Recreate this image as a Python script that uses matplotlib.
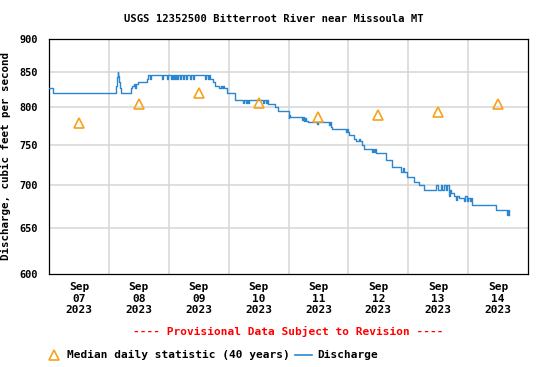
import matplotlib
matplotlib.use("Agg")
import matplotlib.pyplot as plt
from matplotlib.lines import Line2D

# ---------------- data ----------------
title = "USGS 12352500 Bitterroot River near Missoula MT"
day_labels = ["Sep\n07\n2023", "Sep\n08\n2023", "Sep\n09\n2023", "Sep\n10\n2023",
              "Sep\n11\n2023", "Sep\n12\n2023", "Sep\n13\n2023", "Sep\n14\n2023"]
# median daily statistic (40 years), one per day (plotted at noon)
median_cfs = [778, 804, 820, 806, 787, 789, 794, 805]

# discharge: hours since Sep 07 00:00 and value (cfs), step changes
q_hours = [
    0.0, 1.75,
    27.0, 27.25, 27.5, 27.75, 28.0, 28.5, 29.0,
    32.75, 33.25, 34.25, 34.5, 34.75, 35.5, 39.25, 39.5,
    40.4, 40.8, 45.1, 45.5, 47.1, 47.5, 48.8, 49.2, 49.6, 50.0, 50.4, 50.8,
    51.2, 51.6, 52.4, 52.8, 53.7, 54.1, 54.8, 55.2, 56.4, 56.8, 57.7, 58.1,
    62.4, 62.8, 63.6, 64.0,
    64.4, 65.6, 66.4, 68.0, 69.0, 69.4, 69.8, 70.2, 71.2, 74.4,
    77.6, 78.0, 78.8, 79.2, 79.6, 80.0, 85.6, 86.0, 86.8, 87.2, 87.6, 90.4, 91.6,
    96.0, 96.25, 96.5,
    101.6, 102.0, 102.4, 102.8, 103.2, 104.0, 107.5, 107.9,
    112.4, 112.8, 113.2, 113.6,
    119.2, 119.6, 120.0, 120.4,
    122.4, 123.2, 124.4, 124.8, 125.6, 126.4,
    129.6, 130.0, 130.4, 130.8, 131.2,
    135.2, 137.6, 141.2, 141.8, 142.2, 143.6, 146.4, 148.4, 150.4,
    155.3, 156.1, 157.1, 157.7, 158.4, 159.1, 159.7, 160.4, 160.8, 161.2,
    162.4, 163.0, 163.4, 164.4,
    166.4, 166.8, 167.6, 168.0, 168.8, 169.2, 169.6,
    179.2, 183.6, 183.9, 184.2, 184.5,
]
q_cfs = [
    827, 820,
    830, 843, 850, 845, 836, 827, 820,
    827, 830, 833, 827, 833, 836, 840, 846,
    840, 846, 840, 846, 840, 846, 840, 846, 840, 846, 840, 846,
    840, 846, 840, 846, 840, 846, 840, 846, 840, 846, 840, 846,
    840, 846, 840, 846,
    840, 836, 830, 827, 830, 827, 830, 827, 820, 810,
    806, 810, 806, 810, 806, 810, 806, 810, 806, 810, 805, 800, 795,
    785, 789, 787,
    783, 787, 781, 785, 781, 780, 777, 780,
    776, 780, 773, 770,
    766, 770, 766, 763,
    758, 755, 758, 755, 750, 745,
    741, 745, 741, 745, 739,
    731, 722, 716, 720, 716, 709, 703, 700, 693,
    700, 693, 700, 693, 700, 693, 700, 686, 693, 690,
    686, 682, 686, 684,
    680, 686, 680, 684, 680, 684, 676,
    670, 664, 670, 664, 664,
]
y_ticks = [600, 650, 700, 750, 800, 850, 900]

# ---------------- figure ----------------
FONT = ["DejaVu Sans Mono"]
fig = plt.figure(figsize=(5.5, 3.67), dpi=100)
ax = fig.add_axes([49 / 550, 1 - 274 / 367, 479 / 550, 235 / 367])

blue = "#2a86d1"
orange = "#f7a21b"

ax.plot(q_hours, q_cfs, drawstyle="steps-post", color=blue, lw=1.0, zorder=3)
med_x = [d * 24 + 12 for d in range(len(median_cfs))]
ax.plot(med_x, median_cfs, ls="none", marker="^", ms=7, mfc="none",
        mec=orange, mew=1.2, zorder=4)

ax.set_yscale("log")
ax.set_ylim(600, 900)
ax.set_xlim(0, 192)
ax.yaxis.set_major_locator(matplotlib.ticker.FixedLocator(y_ticks))
ax.yaxis.set_minor_locator(matplotlib.ticker.NullLocator())
ax.set_yticklabels([str(v) for v in y_ticks], family=FONT, fontweight="bold",
                   fontsize=7.4)
ax.tick_params(axis="y", length=0, pad=8)

ax.set_xticks(med_x)
ax.set_xticklabels(day_labels, family=FONT, fontweight="bold", fontsize=8,
                   linespacing=1.15)
ax.tick_params(axis="x", length=0, pad=6)

# grid
for d in range(1, len(day_labels)):
    ax.axvline(d * 24, color="#d6d6d6", lw=1.1, zorder=1)
for v in y_ticks[1:-1]:
    ax.axhline(v, color="#d6d6d6", lw=1.1, zorder=1)

for s in ax.spines.values():
    s.set_color("black")
    s.set_linewidth(0.9)

ax.set_ylabel("Discharge, cubic feet per second", family=FONT,
              fontweight="bold", fontsize=7.8, labelpad=6)

fig.text(274 / 550, 1 - 19 / 367, title, family=FONT, fontweight="bold",
         fontsize=7.6, ha="center", va="center")
fig.text(288 / 550, 1 - 331 / 367,
         "---- Provisional Data Subject to Revision ----",
         family=FONT, fontweight="bold", fontsize=8, color="red",
         ha="center", va="center")

# legend
fig.add_artist(Line2D([53.5 / 550], [1 - 355 / 367], marker="^", ms=7,
                      mfc="none", mec=orange, mew=1.2, ls="none",
                      transform=fig.transFigure))
fig.text(67 / 550, 1 - 355 / 367, "Median daily statistic (40 years)",
         family=FONT, fontweight="bold", fontsize=8, ha="left", va="center")
fig.add_artist(Line2D([295 / 550, 312 / 550], [1 - 355 / 367, 1 - 355 / 367],
                      color=blue, lw=1.2, transform=fig.transFigure))
fig.text(317 / 550, 1 - 355 / 367, "Discharge", family=FONT,
         fontweight="bold", fontsize=8, ha="left", va="center")

fig.savefig("out.png", dpi=100)
